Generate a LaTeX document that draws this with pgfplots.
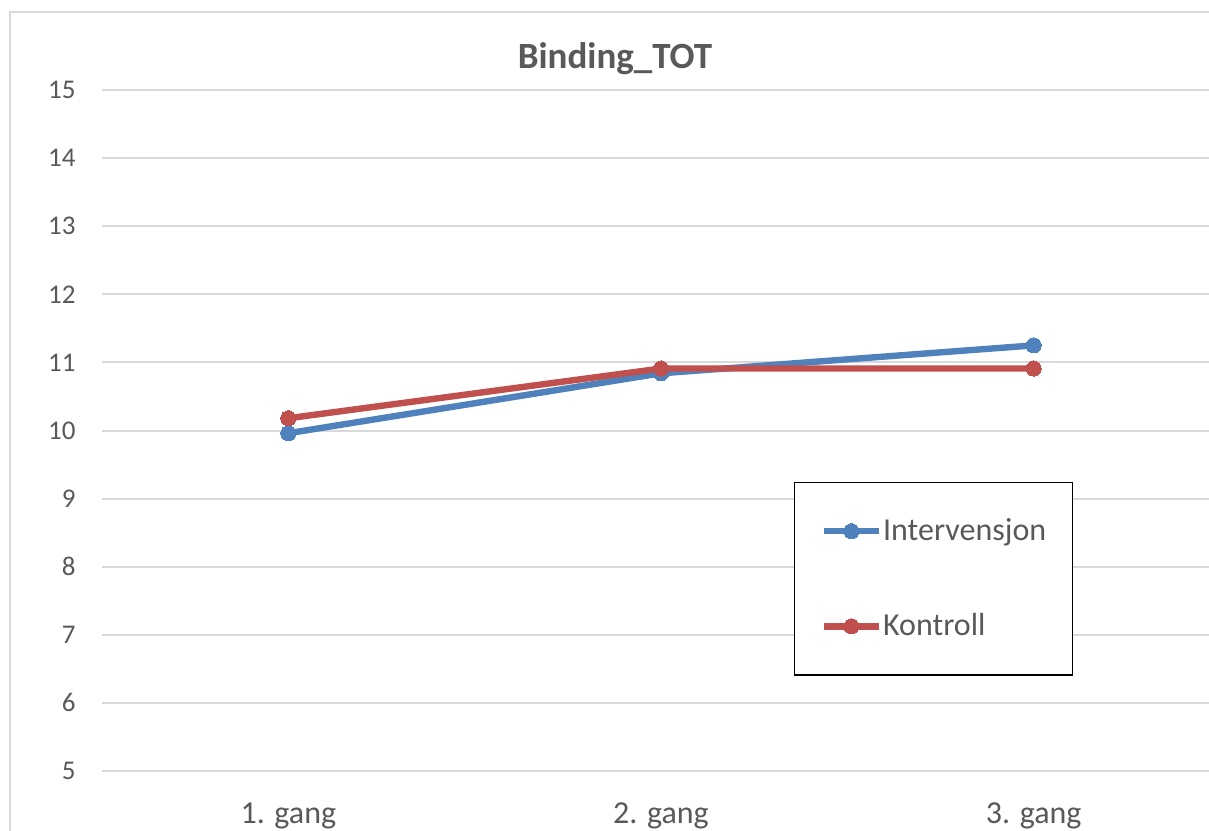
\documentclass[border=0pt]{standalone}
\usepackage{pgfplots}
\pgfplotsset{compat=1.18}
\usepackage{fontspec}
\setmainfont{Carlito}

\definecolor{txtgray}{HTML}{595959}
\definecolor{gridgray}{HTML}{D9D9D9}
\definecolor{intblue}{HTML}{4F81BD}
\definecolor{konred}{HTML}{C0504D}

\begin{document}
\begin{tikzpicture}
  % visible page
  \clip (0,0) rectangle (604.5pt,-415pt);
  \fill[white] (0,0) rectangle (604.5pt,-415pt);
  % chart frame
  \draw[gridgray, line width=0.8pt] (5pt,-6pt) rectangle (640pt,-440pt);
  % chart title
  \node[font=\fontsize{18.5}{22}\selectfont\bfseries, text=txtgray, anchor=base]
    at (307.5pt,-34pt) {Binding\_TOT};

  \begin{axis}[
    scale only axis,
    width=559pt, height=340.5pt,
    at={(51pt,-385.5pt)}, anchor=south west,
    xmin=-0.5, xmax=2.5,
    ymin=5, ymax=15,
    ytick={5,6,...,15},
    xtick={0,1,2},
    xticklabels={1. gang, 2. gang, 3. gang},
    axis line style={draw=none},
    tick style={draw=none},
    ymajorgrids,
    major grid style={gridgray, line width=1pt},
    major tick length=0pt,
    /pgf/number format/assume math mode=true,
    yticklabel style={font=\fontsize{13.5}{16}\selectfont, text=txtgray,
      anchor=east, inner sep=0pt, xshift=-13pt},
    xticklabel style={font=\fontsize{16}{19}\selectfont, text=txtgray,
      anchor=north, inner sep=0pt, yshift=-15.5pt},
    clip=false,
    legend cell align=left,
    legend style={
      at={(0.619,0.4244)}, anchor=north west,
      draw=black, line width=0.7pt,
      inner xsep=13pt, inner ysep=18pt,
      row sep=35pt, column sep=0.5pt,
      font=\fontsize{16}{19}\selectfont, text=txtgray,
      nodes={inner sep=0pt},
    },
    legend image code/.code={
      \draw[mark repeat=2, mark phase=2, #1]
        plot coordinates {(0pt,0pt) (13.75pt,0pt) (27.5pt,0pt)};
    },
  ]
    \addplot[intblue, line width=3.2pt, mark=*, mark size=3.8pt,
      mark options={fill=intblue, draw=intblue, line width=0pt}]
      coordinates {(0,9.96) (1,10.84) (2,11.25)};
    \addlegendentry{Intervensjon}
    \addplot[konred, line width=3.2pt, mark=*, mark size=3.8pt,
      mark options={fill=konred, draw=konred, line width=0pt}]
      coordinates {(0,10.18) (1,10.91) (2,10.91)};
    \addlegendentry{Kontroll}
  \end{axis}
\end{tikzpicture}
\end{document}
